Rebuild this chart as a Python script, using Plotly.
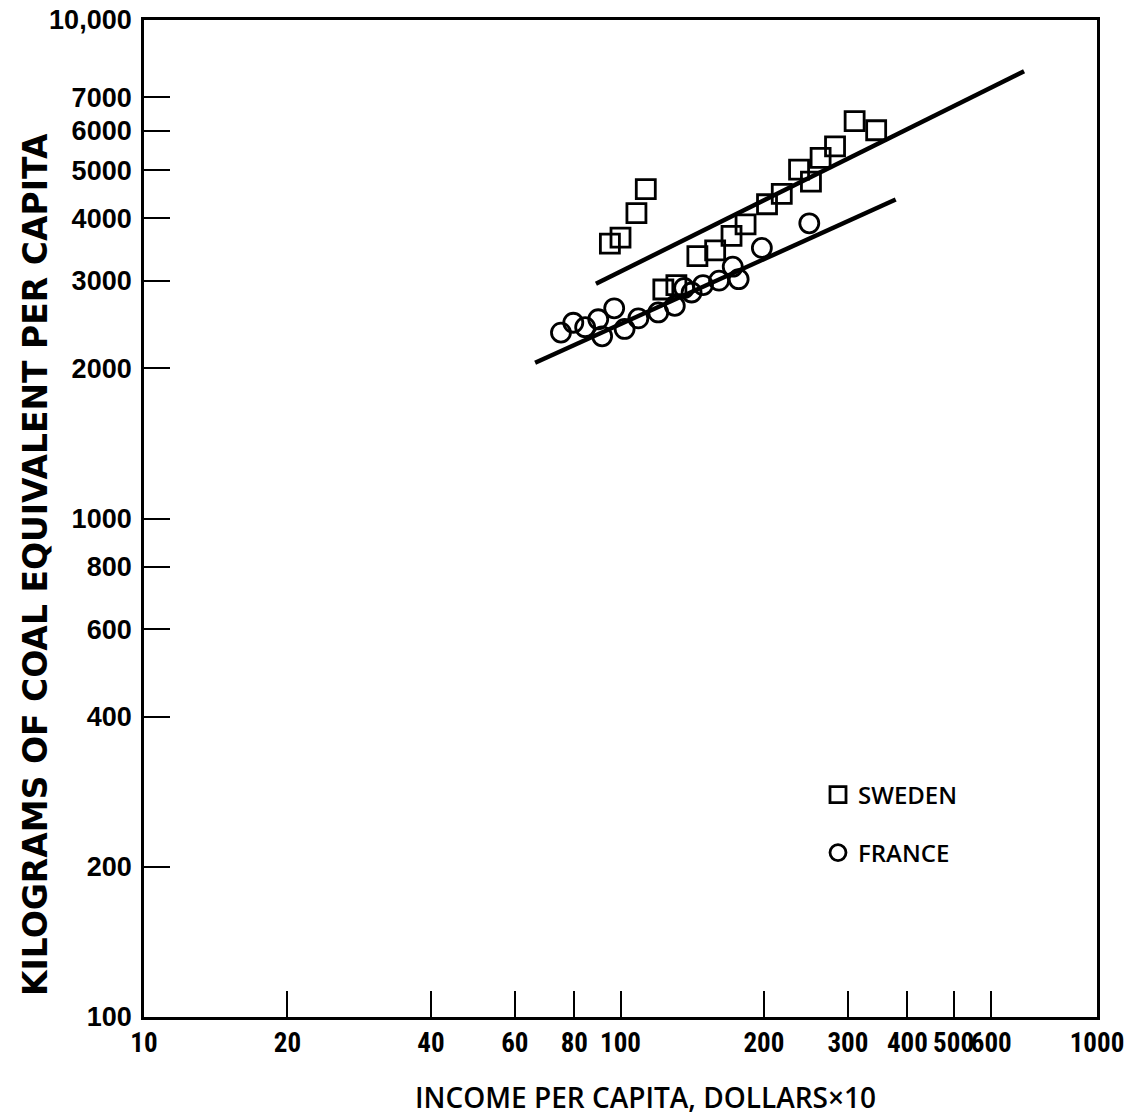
import plotly.graph_objects as go

# Energy use vs. income, per capita (log-log)
sweden_income = [95, 100, 108, 113, 123, 131, 145, 158, 171, 183, 203, 218, 237, 251, 263, 282, 310, 344]
sweden_energy = [3560, 3660, 4100, 4580, 2880, 2940, 3360, 3450, 3690, 3890, 4270, 4480, 5010, 4740, 5290, 5580, 6270, 6010]

france_income = [75, 79.6, 84.3, 89.8, 91.5, 97, 102, 109, 120, 130, 136, 141, 149, 161, 172, 177, 198, 249]
france_energy = [2360, 2470, 2420, 2510, 2320, 2640, 2400, 2520, 2590, 2670, 2900, 2840, 2940, 3000, 3200, 3020, 3490, 3910]

# Fitted trend lines (end points)
sweden_fit_income = [88.8, 703]
sweden_fit_energy = [2957, 7895]
france_fit_income = [66.2, 378]
france_fit_energy = [2053, 4364]

x_tickvals = [10, 20, 40, 60, 80, 100, 200, 300, 400, 500, 600, 1000]
x_ticktext = ["10", "20", "40", "60", "80", "100", "200", "300", "400", "500", "600", "1000"]
y_tickvals = [100, 200, 400, 600, 800, 1000, 2000, 3000, 4000, 5000, 6000, 7000, 10000]
y_ticktext = ["100", "200", "400", "600", "800", "1000", "2000", "3000", "4000", "5000", "6000", "7000", "10,000"]

x_title = "INCOME PER CAPITA, DOLLARS×10"
y_title = "KILOGRAMS OF COAL EQUIVALENT PER CAPITA"

INK = "black"
YTICK_FONT = dict(family="Liberation Sans, Arial, sans-serif", size=27, color=INK, weight="bold")
XTICK_FONT = dict(family="Liberation Sans Narrow, Roboto Condensed, Liberation Sans, sans-serif",
                  size=27, color=INK, weight="bold")
XTITLE_FONT = dict(family="Open Sans, sans-serif", size=28, color=INK, weight=600)
YTITLE_FONT = dict(family="DejaVu Sans, sans-serif", size=33, color=INK, weight="bold")

# plot-area geometry in pixels (used to place the titles)
L, R, T, B = 144, 1097, 20, 1017
PW, PH = R - L, B - T

fig = go.Figure()

fig.add_trace(go.Scatter(
    x=sweden_fit_income, y=sweden_fit_energy, mode="lines",
    line=dict(color=INK, width=4.5), showlegend=False, hoverinfo="skip",
))
fig.add_trace(go.Scatter(
    x=france_fit_income, y=france_fit_energy, mode="lines",
    line=dict(color=INK, width=4.5), showlegend=False, hoverinfo="skip",
))
fig.add_trace(go.Scatter(
    x=sweden_income, y=sweden_energy, mode="markers", name="SWEDEN",
    marker=dict(symbol="square-open", size=19, color=INK, line=dict(width=2.8, color=INK)),
    legend="legend",
))
fig.add_trace(go.Scatter(
    x=france_income, y=france_energy, mode="markers", name="FRANCE",
    marker=dict(symbol="circle-open", size=19, color=INK, line=dict(width=2.8, color=INK)),
    legend="legend2",
))

legend_style = dict(
    font=dict(family="Open Sans, sans-serif", size=24, color=INK, weight=600),
    bgcolor="rgba(0,0,0,0)", borderwidth=0,
    xanchor="left", yanchor="middle", xref="paper", yref="paper",
    itemsizing="trace",
)

fig.update_layout(
    width=1136, height=1120,
    margin=dict(l=L, r=1136 - R, t=T, b=1120 - B),
    paper_bgcolor="white", plot_bgcolor="white",
    legend=dict(x=(818 - L) / PW, y=(B - 795) / PH, **legend_style),
    legend2=dict(x=(818 - L) / PW, y=(B - 853) / PH, **legend_style),
    xaxis=dict(
        type="log", range=[1, 3], automargin=False,
        tickvals=x_tickvals, ticktext=x_ticktext, tickangle=0,
        ticks="inside", ticklen=26, tickwidth=2.2, tickcolor=INK,
        showline=True, linecolor=INK, linewidth=2.8, mirror=True,
        showgrid=False, zeroline=False,
        tickfont=XTICK_FONT,
    ),
    yaxis=dict(
        type="log", range=[2, 4], automargin=False,
        tickvals=y_tickvals, ticktext=y_ticktext,
        ticks="inside", ticklen=26, tickwidth=2.2, tickcolor=INK,
        showline=True, linecolor=INK, linewidth=2.8, mirror=True,
        showgrid=False, zeroline=False,
        tickfont=YTICK_FONT, ticklabelstandoff=4,
    ),
    annotations=[
        dict(text=x_title, font=XTITLE_FONT, showarrow=False,
             xref="paper", yref="paper", x=(645 - L) / PW, y=(B - 1097) / PH,
             xanchor="center", yanchor="middle"),
        dict(text=y_title, font=YTITLE_FONT, showarrow=False, textangle=-90,
             xref="paper", yref="paper", x=(35 - L) / PW, y=(B - 565) / PH,
             xanchor="center", yanchor="middle"),
    ],
)

fig.write_html("out.html")
